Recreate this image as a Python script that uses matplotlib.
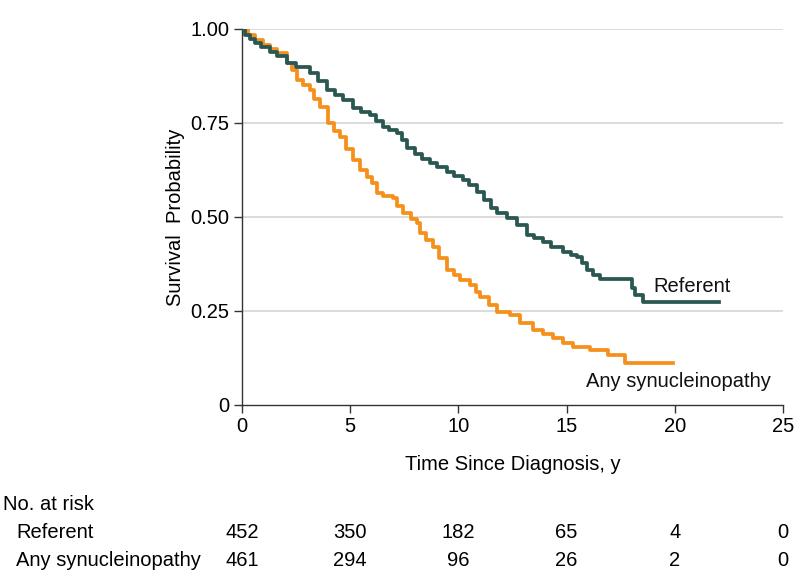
import matplotlib
matplotlib.use("Agg")
import matplotlib.pyplot as plt
import matplotlib.transforms as mtransforms

plt.rcParams['font.family'] = ['Liberation Sans', 'DejaVu Sans']

# Kaplan-Meier step data
ref_t = [0, 0.15, 0.37, 0.6, 0.9, 1.29, 1.6, 2.08, 2.5, 3.14, 3.5, 3.93, 4.3, 4.67,
         5.13, 5.5, 5.91, 6.2, 6.52, 6.8, 7.16, 7.4, 7.62, 8.0, 8.3, 8.69, 9.0, 9.47,
         9.8, 10.21, 10.5, 10.86, 11.2, 11.5, 11.78, 12.25, 12.7, 13.17, 13.5, 13.91,
         14.3, 14.83, 15.2, 15.48, 15.7, 15.94, 16.2, 16.54, 18.0, 18.16, 18.53, 22.04]
ref_s = [1.0, 0.985, 0.973, 0.962, 0.952, 0.939, 0.928, 0.91, 0.898, 0.883, 0.862,
         0.838, 0.825, 0.811, 0.79, 0.78, 0.771, 0.756, 0.739, 0.731, 0.723, 0.705,
         0.684, 0.668, 0.655, 0.644, 0.633, 0.62, 0.61, 0.598, 0.585, 0.566, 0.545,
         0.525, 0.51, 0.498, 0.48, 0.452, 0.443, 0.434, 0.42, 0.407, 0.4, 0.394, 0.378,
         0.359, 0.345, 0.334, 0.311, 0.293, 0.273, 0.273]

syn_t = [0, 0.3, 0.6, 0.97, 1.3, 1.62, 2.08, 2.3, 2.54, 2.8, 3.14, 3.35, 3.6, 3.97,
         4.25, 4.53, 4.8, 5.13, 5.45, 5.77, 6.0, 6.24, 6.5, 6.98, 7.15, 7.44, 7.8,
         8.09, 8.23, 8.5, 8.83, 9.1, 9.47, 9.8, 10.07, 10.54, 10.8, 11.0, 11.4, 11.78,
         12.38, 12.85, 13.45, 13.9, 14.37, 14.83, 15.30, 16.08, 16.91, 17.70, 19.92]
syn_s = [1.0, 0.985, 0.972, 0.957, 0.947, 0.936, 0.91, 0.89, 0.864, 0.85, 0.838,
         0.815, 0.793, 0.75, 0.73, 0.713, 0.68, 0.652, 0.625, 0.606, 0.59, 0.564,
         0.556, 0.55, 0.53, 0.51, 0.495, 0.484, 0.457, 0.44, 0.42, 0.39, 0.359, 0.345,
         0.332, 0.319, 0.3, 0.287, 0.265, 0.247, 0.239, 0.218, 0.199, 0.19, 0.178,
         0.165, 0.154, 0.146, 0.133, 0.112, 0.112]

x_ticks = [0, 5, 10, 15, 20, 25]
y_ticks = [0, 0.25, 0.50, 0.75, 1.00]
y_tick_labels = ["0", "0.25", "0.50", "0.75", "1.00"]
risk_groups = ["Referent", "Any synucleinopathy"]
risk_ref = [452, 350, 182, 65, 4, 0]
risk_syn = [461, 294, 96, 26, 2, 0]

c_ref = "#2b5752"
c_syn = "#f5901c"
fs = 14.5

fig = plt.figure(figsize=(7.98, 5.88), dpi=100)
ax = fig.add_axes([242/798, 1-405/588, (783-242)/798, (405-29)/588])

ax.step(syn_t, syn_s, where='post', color=c_syn, lw=2.7, zorder=3)
ax.step(ref_t, ref_s, where='post', color=c_ref, lw=2.7, zorder=4)

ax.set_xlim(0, 25)
ax.set_ylim(0, 1.0)
ax.set_xticks(x_ticks)
ax.set_xticklabels([str(v) for v in x_ticks])
ax.set_yticks(y_ticks)
ax.set_yticklabels(y_tick_labels)
for yv in y_ticks[1:]:
    ax.axhline(yv, color="#d9d9d9", lw=1.3, zorder=1)
for s in ["top", "right"]:
    ax.spines[s].set_visible(False)
for s in ["left", "bottom"]:
    ax.spines[s].set_color("#333333")
    ax.spines[s].set_linewidth(1.0)
ax.spines["left"].set_bounds(0, 1.0)
ax.tick_params(axis='both', direction='out', length=6, width=1.0, color="#333333",
               labelsize=fs, pad=3)
ax.set_xlabel("Time Since Diagnosis, y", fontsize=fs, labelpad=13)
ax.set_ylabel("Survival  Probability", fontsize=fs, labelpad=4)

ax.text(19.0, 0.315, "Referent", fontsize=fs, ha='left', va='center', color="#111111")
ax.text(15.9, 0.062, "Any synucleinopathy", fontsize=fs, ha='left', va='center', color="#111111")

# Number at risk table
trans = mtransforms.blended_transform_factory(ax.transData, fig.transFigure)
fig.text(3/798, 1-505/588, "No. at risk", fontsize=fs, ha='left', va='center')
fig.text(16/798, 1-532/588, risk_groups[0], fontsize=fs, ha='left', va='center')
fig.text(16/798, 1-560/588, risk_groups[1], fontsize=fs, ha='left', va='center')
for xv, a, b in zip(x_ticks, risk_ref, risk_syn):
    ax.text(xv, 1-532/588, str(a), transform=trans, fontsize=fs, ha='center', va='center', clip_on=False)
    ax.text(xv, 1-560/588, str(b), transform=trans, fontsize=fs, ha='center', va='center', clip_on=False)

fig.savefig("out.png", dpi=100)
